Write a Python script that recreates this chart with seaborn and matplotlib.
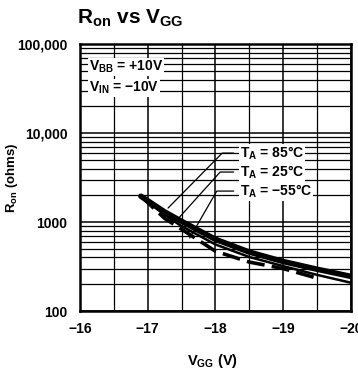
import numpy as np
import pandas as pd
import seaborn as sns
import matplotlib
matplotlib.use("Agg")
import matplotlib.pyplot as plt
from matplotlib.ticker import FixedLocator, LogLocator, NullFormatter

# ---- data ----
vgg_85 = [-16.9, -17.25, -17.5, -18.0, -18.5, -19.0, -19.5, -20.0]
ron_85 = [1950, 1300, 1020, 640, 460, 360, 295, 245]
vgg_25 = [-16.9, -17.25, -17.5, -18.0, -18.5, -19.0, -19.5, -20.0]
ron_25 = [1950, 1200, 900, 560, 405, 320, 255, 208]
vgg_m55 = [-16.9, -17.25, -17.5, -18.0, -18.5, -19.0, -19.45]
ron_m55 = [1950, 1100, 830, 470, 355, 300, 240]
x_ticks = [-16, -17, -18, -19, -20]
x_tick_labels = ["\u221216", "\u221217", "\u221218", "\u221219", "\u221220"]
y_ticks = [100, 1000, 10000, 100000]
y_tick_labels = ["100", "1000", "10,000", "100,000"]
series_labels = ["85", "25", "\u221255"]

sns.set_style("white")
plt.rcParams['font.family'] = ['Liberation Sans', 'DejaVu Sans']
plt.rcParams['font.weight'] = 'bold'
plt.rcParams['text.color'] = 'black'
plt.rcParams['axes.labelcolor'] = 'black'
plt.rcParams['xtick.color'] = 'black'
plt.rcParams['ytick.color'] = 'black'
plt.rcParams['mathtext.fontset'] = 'custom'
plt.rcParams['mathtext.bf'] = 'Liberation Sans:bold'
plt.rcParams['mathtext.rm'] = 'Liberation Sans:bold'
plt.rcParams['mathtext.default'] = 'bf'

fig = plt.figure(figsize=(3.58, 3.71), dpi=100)
ax = fig.add_axes([0.2235, 0.1617, 0.7565, 0.7193])

df = pd.concat([
    pd.DataFrame({"V": vgg_85, "R": ron_85, "T": series_labels[0]}),
    pd.DataFrame({"V": vgg_25, "R": ron_25, "T": series_labels[1]}),
    pd.DataFrame({"V": vgg_m55, "R": ron_m55, "T": series_labels[2]}),
])

sns.lineplot(data=df[df["T"] == series_labels[0]], x="V", y="R", ax=ax,
             color="black", lw=4.0, legend=False, zorder=5)
sns.lineplot(data=df[df["T"] == series_labels[1]], x="V", y="R", ax=ax,
             color="black", lw=1.8, legend=False, zorder=5)
sns.lineplot(data=df[df["T"] == series_labels[2]], x="V", y="R", ax=ax,
             color="black", lw=2.6, legend=False, zorder=5,
             linestyle=(0, (5, 2)))

ax.set_yscale("log")
ax.set_xlim(-16, -20)
ax.set_ylim(100, 100000)

ax.xaxis.set_major_locator(FixedLocator(x_ticks))
ax.xaxis.set_minor_locator(FixedLocator(np.arange(-16.5, -20, -1.0)))
ax.set_xticklabels(x_tick_labels)
ax.yaxis.set_major_locator(FixedLocator(y_ticks))
ax.yaxis.set_minor_locator(LogLocator(base=10, subs=range(2, 10)))
ax.yaxis.set_minor_formatter(NullFormatter())
ax.set_yticklabels(y_tick_labels)

ax.grid(True, which="major", color="black", lw=1.1)
ax.grid(True, which="minor", color="black", lw=0.9)
ax.tick_params(which="both", length=0, labelsize=10, colors="black")
ax.tick_params(axis="y", pad=9)
ax.tick_params(axis="x", pad=8)
for lab in ax.get_xticklabels() + ax.get_yticklabels():
    lab.set_fontweight("bold")
for s in ax.spines.values():
    s.set_linewidth(1.8)
    s.set_color("black")

ax.set_xlabel(r"$\mathbf{V_{GG}}$ (V)", fontsize=10.5, fontweight="bold")
ax.xaxis.set_label_coords(0.49, -0.155)
ax.set_ylabel(r"$\mathbf{R_{on}}$ (ohms)", fontsize=9.5, fontweight="bold")
ax.yaxis.set_label_coords(-0.22, 0.5)

fig.text(0.215, 0.95, r"$\mathbf{R_{on}}$ vs $\mathbf{V_{GG}}$", fontsize=15,
         fontweight="bold", ha="left", va="center")

# conditions
bb = dict(facecolor="white", edgecolor="none", pad=0.6)
ax.text(-16.13, 55000, r"$\mathbf{V_{BB}}$ = +10V", fontsize=10, fontweight="bold",
        ha="left", va="center", bbox=bb, zorder=6)
ax.text(-16.13, 32000, r"$\mathbf{V_{IN}}$ = " + "\u221210V", fontsize=10, fontweight="bold",
        ha="left", va="center", bbox=bb, zorder=6)

# series labels with leaders
lab_y = [5960, 3650, 2230]
leader_end = [(-17.30, 1436), (-17.43, 1052), (-17.62, 661)]
leader_knee = [-18.10, -18.07, -18.02]
for lbl, ly, (ex, ey), kx in zip(series_labels, lab_y, leader_end, leader_knee):
    ax.text(-18.36, ly, r"$\mathbf{T_A}$ = " + lbl + "\u00b0C", fontsize=10,
            fontweight="bold", ha="left", va="center", bbox=bb, zorder=6)
    ax.plot([-18.27, kx, ex], [ly, ly, ey], color="black", lw=0.9, zorder=7)

fig.savefig("out.png", dpi=100)
